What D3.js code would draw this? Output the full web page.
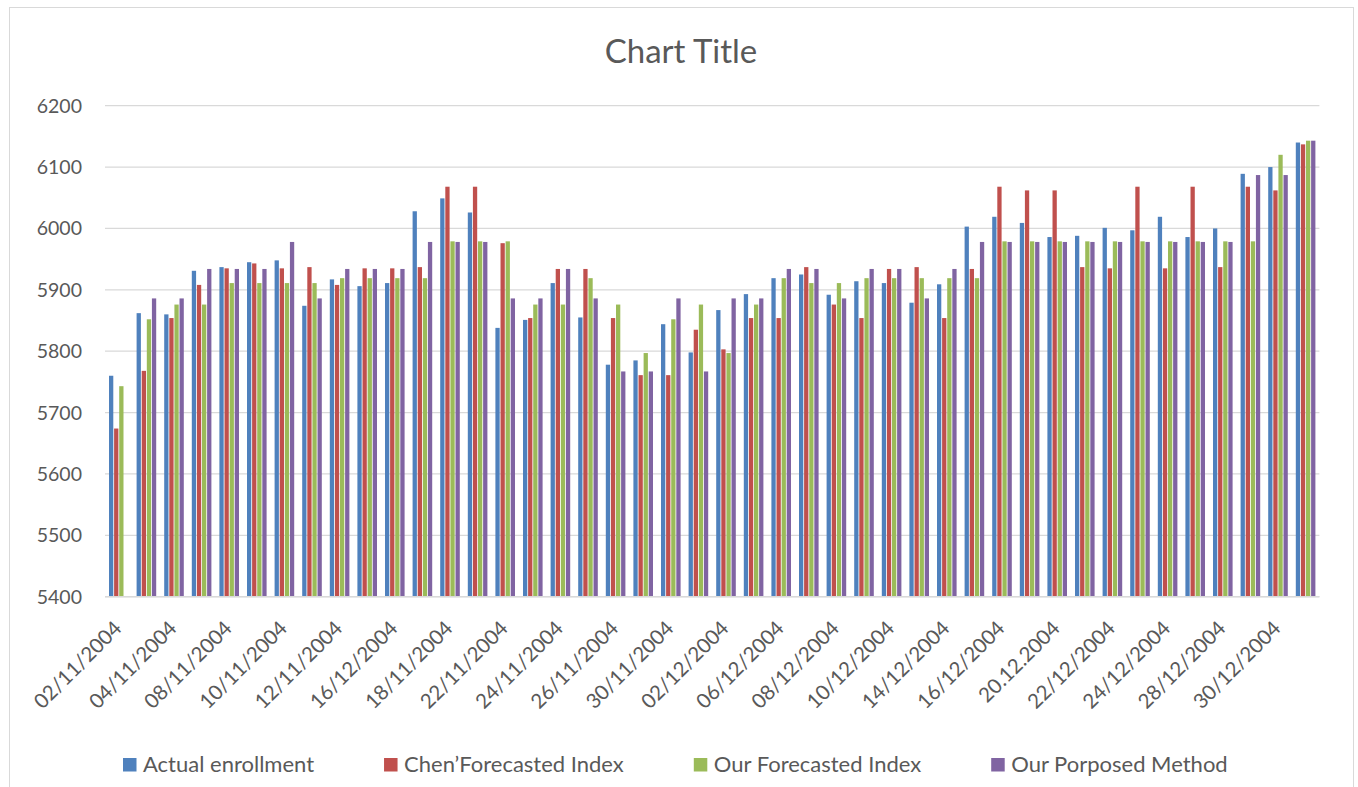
<!DOCTYPE html>
<html>
<head>
<meta charset="utf-8">
<script src="https://cdn.jsdelivr.net/npm/d3@7"></script>
<style>
  body { margin: 0; background: #fff; }
  svg text { font-family: Lato, "Open Sans", sans-serif; fill: #595959; }
</style>
</head>
<body>
<svg width="1358" height="787"></svg>
<script>
// Data
var dates = ['02/11/2004', '03/11/2004', '04/11/2004', '05/11/2004', '08/11/2004', '09/11/2004',
  '10/11/2004', '11/11/2004', '12/11/2004', '15/11/2004', '16/12/2004', '17/11/2004',
  '18/11/2004', '19/11/2004', '22/11/2004', '23/11/2004', '24/11/2004', '25/11/2004',
  '26/11/2004', '29/11/2004', '30/11/2004', '01/12/2004', '02/12/2004', '03/12/2004',
  '06/12/2004', '07/12/2004', '08/12/2004', '09/12/2004', '10/12/2004', '13/12/2004',
  '14/12/2004', '15/12/2004', '16/12/2004', '17/12/2004', '20.12.2004', '21/12/2004',
  '22/12/2004', '23/12/2004', '24/12/2004', '27/12/2004', '28/12/2004', '29/12/2004',
  '30/12/2004', '31/12/2004'];
var series_names = ['Actual enrollment', 'Chen\u2019Forecasted Index', 'Our Forecasted Index', 'Our Porposed Method'];
var actual = [5760, 5862, 5860, 5931, 5937, 5945, 5948, 5874, 5917, 5906, 5911, 6028, 6049, 6026,
  5838, 5851, 5911, 5855, 5778, 5785, 5844, 5798, 5867, 5893, 5919, 5925, 5892, 5914, 5911, 5879,
  5909, 6003, 6019, 6009, 5986, 5988, 6001, 5997, 6019, 5986, 6000, 6089, 6100, 6140];
var chen = [5674, 5768, 5854, 5908, 5935, 5943, 5935, 5937, 5908, 5935, 5935, 5937, 6068, 6068,
  5976, 5854, 5934, 5934, 5854, 5761, 5761, 5835, 5803, 5854, 5854, 5937, 5876, 5854, 5934, 5937,
  5854, 5934, 6068, 6062, 6062, 5937, 5935, 6068, 5935, 6068, 5937, 6068, 6062, 6137];
var ours = [5743, 5852, 5876, 5876, 5911, 5911, 5911, 5911, 5919, 5919, 5919, 5919, 5979, 5979,
  5979, 5876, 5876, 5919, 5876, 5797, 5852, 5876, 5797, 5876, 5919, 5911, 5911, 5919, 5919, 5919,
  5919, 5919, 5979, 5979, 5979, 5979, 5979, 5979, 5979, 5979, 5979, 5979, 6120, 6143];
var proposed = [null, 5886, 5886, 5934, 5934, 5934, 5978, 5886, 5934, 5934, 5934, 5978, 5978, 5978,
  5886, 5886, 5934, 5886, 5767, 5767, 5886, 5767, 5886, 5886, 5934, 5934, 5886, 5934, 5934, 5886,
  5934, 5978, 5978, 5978, 5978, 5978, 5978, 5978, 5978, 5978, 5978, 6087, 6087, 6143];
var y_ticks = [5400, 5500, 5600, 5700, 5800, 5900, 6000, 6100, 6200];
var colors = ['#4f81bd', '#c0504d', '#9bbb59', '#8064a2'];

var all_series = [actual, chen, ours, proposed];
var rows = dates.map(function(d, i) {
  return { i: i, date: d, values: all_series.map(function(s, k) { return { k: k, v: s[i] }; }) };
});

var svg = d3.select('svg');
var m_left = 105, m_right = 1319.4, m_top = 105.7, m_bottom = 596.7;

// chart area frame
svg.append('rect')
  .attr('x', 9.5).attr('y', 7.5).attr('width', 1344).attr('height', 800)
  .attr('fill', 'none').attr('stroke', '#d9d9d9');

// index-based band scale (one date label appears twice in the source)
var x0 = d3.scaleBand().domain(d3.range(dates.length)).range([m_left, m_right])
  .paddingInner(0.29).paddingOuter(0.145);
var x1 = d3.scaleBand().domain(d3.range(4)).range([0, x0.bandwidth()]).paddingInner(0.16);
var y = d3.scaleLinear().domain([5400, 6200]).range([m_bottom, m_top]);

// gridlines
svg.append('g').selectAll('line').data(y_ticks).enter().append('line')
  .attr('x1', m_left).attr('x2', m_right)
  .attr('y1', d => y(d)).attr('y2', d => y(d))
  .attr('stroke', '#d9d9d9').attr('stroke-width', 1.3);

// y labels
svg.append('g').selectAll('text').data(y_ticks).enter().append('text')
  .attr('x', 82).attr('y', d => y(d))
  .attr('dy', '0.36em')
  .attr('text-anchor', 'end')
  .attr('font-size', '19.5px')
  .text(d => d);

// bars
var groups = svg.append('g').selectAll('g').data(rows).enter().append('g')
  .attr('transform', d => 'translate(' + x0(d.i) + ',0)');
groups.selectAll('rect')
  .data(d => d.values.filter(v => v.v !== null))
  .enter().append('rect')
  .attr('x', d => x1(d.k))
  .attr('width', x1.bandwidth())
  .attr('y', d => y(d.v))
  .attr('height', d => y(5400) - y(d.v))
  .attr('fill', d => colors[d.k]);

// x axis baseline
svg.append('line')
  .attr('x1', m_left).attr('x2', m_right)
  .attr('y1', m_bottom).attr('y2', m_bottom)
  .attr('stroke', '#d9d9d9').attr('stroke-width', 1.5);

// x labels (every second category)
var xaxis = svg.append('g')
  .attr('transform', 'translate(0,' + m_bottom + ')')
  .call(d3.axisBottom(x0).tickSize(0)
    .tickValues(d3.range(0, dates.length, 2))
    .tickFormat(i => dates[i]));
xaxis.select('.domain').remove();
xaxis.selectAll('text')
  .attr('font-size', '20.5px')
  .attr('fill', '#595959')
  .attr('font-family', 'Lato, sans-serif')
  .attr('text-anchor', 'end')
  .attr('dy', null)
  .attr('y', 0)
  .attr('transform', 'translate(4,33) rotate(-45)');

// title
svg.append('text')
  .attr('x', 681).attr('y', 63)
  .attr('text-anchor', 'middle')
  .attr('font-size', '33px')
  .text('Chart Title');

// legend
var lx = 123;
var legend = svg.append('g');
series_names.forEach(function(name, k) {
  legend.append('rect')
    .attr('x', lx).attr('y', 758).attr('width', 13.5).attr('height', 13.5)
    .attr('fill', colors[k]);
  var t = legend.append('text')
    .attr('x', lx + 20).attr('y', 772)
    .attr('font-size', '22px')
    .text(name);
  lx += 20 + t.node().getComputedTextLength() + 70;
});
</script>
</body>
</html>
